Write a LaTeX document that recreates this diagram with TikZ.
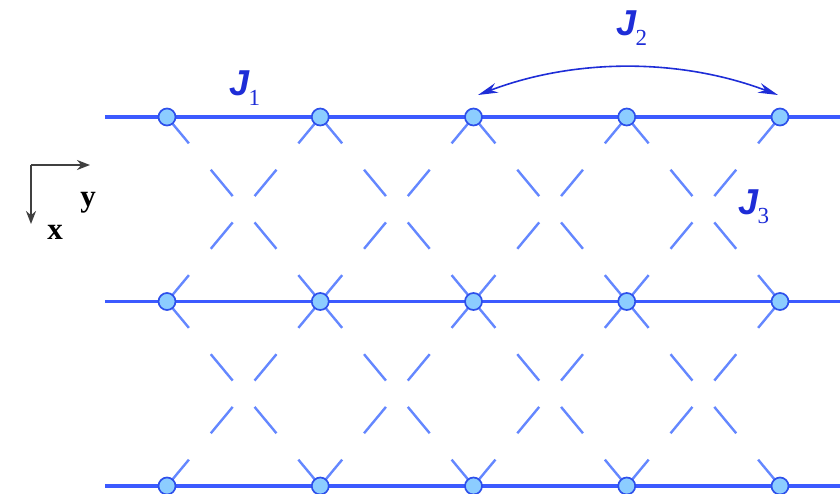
\documentclass[tikz,border=0pt]{standalone}
\usepackage{fontspec}
\setmainfont{Liberation Serif}
\newfontfamily\jfont{Liberation Sans}
\usetikzlibrary{arrows.meta}
\definecolor{hline}{RGB}{60,90,255}
\definecolor{dline}{RGB}{100,135,255}
\definecolor{nfill}{RGB}{140,205,255}
\definecolor{nedge}{RGB}{45,80,235}
\definecolor{jcol}{RGB}{30,45,215}
\tikzset{
  site/.style={circle,draw=nedge,fill=nfill,line width=1.7pt,minimum size=17pt,inner sep=0pt},
  chain/.style={draw=hline,line width=3.2pt},
  diag/.style={draw=dline,line width=2.4pt,dash pattern=on 34.26pt off 34.26pt},
  jlab/.style={text=jcol,inner sep=0pt,font=\fontsize{36}{36}\selectfont\jfont\bfseries\itshape},
  axlab/.style={inner sep=0pt,font=\fontsize{31}{31}\selectfont\bfseries},
  axarrow/.style={draw=black!75,line width=2pt,-{Stealth[length=13pt,width=10pt]}},
  jarrow/.style={draw=jcol,line width=1.6pt,{Stealth[length=20pt,width=10pt]}-{Stealth[length=20pt,width=10pt]}}
}
\newcommand{\jsub}[1]{J\kern-0.04em\raisebox{-0.26em}{\normalfont\fontsize{23}{23}\selectfont #1}}
\begin{document}
\begin{tikzpicture}[x=1pt,y=-1pt]
\useasboundingbox (0,0) rectangle (840,493);
\clip (0,0) rectangle (840,493);
% chain end points
\foreach \r/\yy in {1/117,2/301.5,3/486}{
  \coordinate (l\r) at (105,\yy);
  \coordinate (r\r) at (845,\yy);
}
% sites (positions)
\foreach \r/\yy in {1/117,2/301.5,3/486}{
  \foreach \c in {1,...,5}{
    \coordinate (p-\r-\c) at ({167+153.25*(\c-1)},\yy);
  }
}
% diagonal couplings
\foreach \r/\s in {1/2,2/3}{
  \foreach \c/\d in {1/2,2/3,3/4,4/5}{
    \draw[diag] (p-\r-\c) -- (p-\s-\d);
    \draw[diag] (p-\r-\d) -- (p-\s-\c);
  }
}
% chains
\foreach \r in {1,2,3}{
  \draw[chain] (l\r) -- (r\r);
}
% sites
\foreach \r in {1,2,3}{
  \foreach \c in {1,...,5}{
    \node[site] (n-\r-\c) at (p-\r-\c) {};
  }
}
% J2 arrow
\coordinate (a2l) at (478,95);
\coordinate (a2r) at (778,95);
\draw[jarrow] (a2l) .. controls (575,58) and (680,58) .. (a2r);
% labels
\node[jlab] (J1) at (245,88) {\jsub{1}};
\node[jlab] (J2) at (632,28) {\jsub{2}};
\node[jlab] (J3) at (754,207) {\jsub{3}};
% axes
\coordinate (o) at (31,165);
\coordinate (ay) at (90,165);
\coordinate (ax) at (31,224);
\draw[axarrow] (o) -- (ay);
\draw[axarrow] (o) -- (ax);
\node[axlab] (ylab) at (88,203) {y};
\node[axlab] (xlab) at (55,232) {x};
\end{tikzpicture}
\end{document}
